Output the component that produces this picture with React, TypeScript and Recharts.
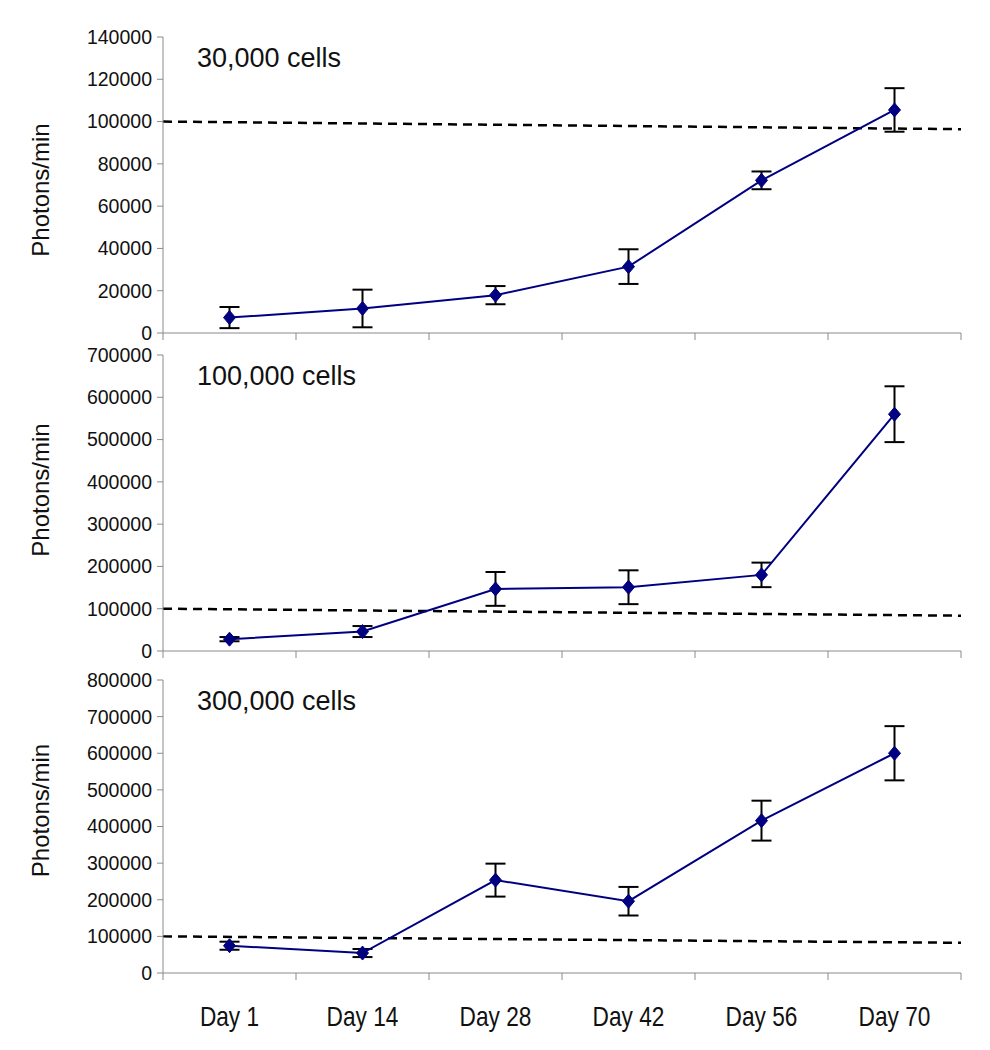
import React from "react";
import { ErrorBar, Line, LineChart, XAxis, YAxis } from "recharts";

const days = ["Day 1", "Day 14", "Day 28", "Day 42", "Day 56", "Day 70"];

const photons30k = [7300, 11600, 17900, 31400, 72200, 105500];
const err30k = [5000, 8900, 4300, 8200, 4200, 10300];
const photons100k = [28000, 46000, 146800, 150800, 180000, 560000];
const err100k = [5000, 13000, 40000, 40000, 29000, 66000];
const photons300k = [74500, 54500, 253600, 196000, 416000, 600000];
const err300k = [11000, 11000, 45000, 39000, 54500, 74000];

// detection threshold, value at the left and right edge of the plot
const threshold30k = [100000, 96400];
const threshold100k = [100000, 83500];
const threshold300k = [100000, 82500];

const ticks30k = [0, 20000, 40000, 60000, 80000, 100000, 120000, 140000];
const ticks100k = [0, 100000, 200000, 300000, 400000, 500000, 600000, 700000];
const ticks300k = [0, 100000, 200000, 300000, 400000, 500000, 600000, 700000, 800000];

const FONT = "'Liberation Sans', Arial, sans-serif";
const AXIS = "#8a8a8a";
const NAVY = "#000080";

const xTicks = [0, 0.5, 1, 1.5, 2, 2.5, 3, 3.5, 4, 4.5, 5, 5.5, 6];

function Diamond(props: any) {
  const { cx, cy, index } = props;
  if (cx == null || cy == null) return <g key={index} />;
  return (
    <path
      key={index}
      d={`M${cx},${cy - 7} L${cx + 6},${cy} L${cx},${cy + 7} L${cx - 6},${cy} Z`}
      fill={NAVY}
      stroke={NAVY}
    />
  );
}

function makeXTick(showLabels: boolean) {
  return (props: any) => {
    const { x, y, payload } = props;
    const v = payload.value as number;
    if (Number.isInteger(v)) {
      return <line x1={x} x2={x} y1={y} y2={y + 7} stroke={AXIS} strokeWidth={1} />;
    }
    if (!showLabels) return <g />;
    return (
      <text
        transform={`translate(${x},${y + 53}) scale(0.84,1)`}
        x={0}
        y={0}
        textAnchor="middle"
        fontSize={27}
        fontFamily="'Liberation Sans Narrow', 'Arial Narrow', 'Liberation Sans', sans-serif"
        fill="#111"
      >
        {days[Math.floor(v)]}
      </text>
    );
  };
}

type PanelProps = {
  top: number;
  height: number;
  marginTop: number;
  xHeight: number;
  labelDy: number;
  values: number[];
  errors: number[];
  threshold: number[];
  ticks: number[];
  title: string;
  showLabels: boolean;
};

function Panel(p: PanelProps) {
  const data = days.map((d, i) => ({ x: i + 0.5, day: d, y: p.values[i], err: p.errors[i] }));
  const thr = [
    { x: 0, t: p.threshold[0] },
    { x: 6, t: p.threshold[1] },
  ];
  const max = p.ticks[p.ticks.length - 1];
  return (
    <div style={{ position: "absolute", left: 0, top: p.top }}>
      <LineChart
        width={990}
        height={p.height}
        data={data}
        margin={{ top: p.marginTop, right: 29, bottom: 0, left: 0 }}
      >
        <XAxis
          type="number"
          dataKey="x"
          domain={[0, 6]}
          ticks={xTicks}
          interval={0}
          height={p.xHeight}
          axisLine={{ stroke: AXIS }}
          tickLine={false}
          tickSize={0}
          tickMargin={0}
          tick={makeXTick(p.showLabels)}
        />
        <YAxis
          type="number"
          domain={[0, max]}
          ticks={p.ticks}
          interval={0}
          width={163}
          axisLine={{ stroke: AXIS }}
          tickLine={{ stroke: AXIS }}
          tickSize={6}
          tickMargin={5}
          tick={{ fill: "#111", fontSize: 19.5, fontFamily: FONT }}
          label={{
            value: "Photons/min",
            angle: -90,
            position: "insideLeft",
            dx: 35,
            dy: p.labelDy,
            style: { fontSize: 24, fontFamily: FONT, fill: "#111", textAnchor: "middle" },
          }}
        />
        <Line
          data={thr}
          dataKey="t"
          stroke="#000"
          strokeWidth={2.5}
          strokeDasharray="9 6"
          dot={false}
          activeDot={false}
          isAnimationActive={false}
        />
        <Line
          dataKey="y"
          stroke={NAVY}
          strokeWidth={2}
          dot={Diamond}
          activeDot={false}
          isAnimationActive={false}
        >
          <ErrorBar dataKey="err" width={10} stroke="#000" strokeWidth={2} direction="y" />
        </Line>
      </LineChart>
      <div
        style={{
          position: "absolute",
          left: 197,
          top: p.marginTop + 6,
          fontSize: 27,
          fontFamily: FONT,
          color: "#111",
        }}
      >
        {p.title}
      </div>
    </div>
  );
}

export default function App() {
  return (
    <div style={{ position: "absolute", left: 0, top: 0, width: 990, height: 1050, background: "#fff" }}>
      <Panel
        top={0}
        height={345}
        marginTop={37}
        xHeight={12}
        labelDy={5}
        values={photons30k}
        errors={err30k}
        threshold={threshold30k}
        ticks={ticks30k}
        title="30,000 cells"
        showLabels={false}
      />
      <Panel
        top={345}
        height={318}
        marginTop={10}
        xHeight={12}
        labelDy={-13}
        values={photons100k}
        errors={err100k}
        threshold={threshold100k}
        ticks={ticks100k}
        title="100,000 cells"
        showLabels={false}
      />
      <Panel
        top={663}
        height={370}
        marginTop={17}
        xHeight={60}
        labelDy={-16}
        values={photons300k}
        errors={err300k}
        threshold={threshold300k}
        ticks={ticks300k}
        title="300,000 cells"
        showLabels={true}
      />
    </div>
  );
}
